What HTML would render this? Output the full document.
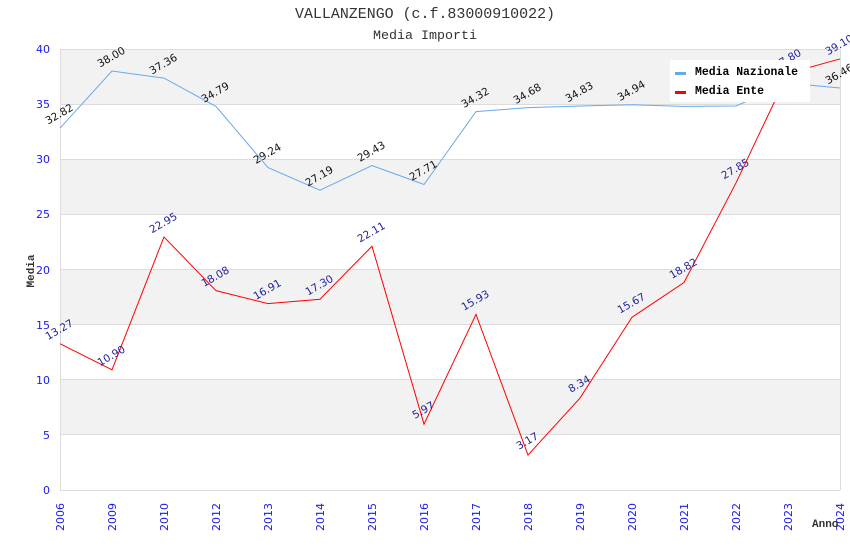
<!DOCTYPE html>
<html><head><meta charset="utf-8"><style>
html,body{margin:0;padding:0;background:#fff;}
svg{display:block;}
</style></head><body>
<svg width="850" height="550" viewBox="0 0 850 550" xmlns="http://www.w3.org/2000/svg">
<rect x="0" y="0" width="850" height="550" fill="#fff"/>
<!-- bands -->
<g fill="#f2f2f2">
<rect x="60" y="49" width="780" height="55.125"/>
<rect x="60" y="159.25" width="780" height="55.125"/>
<rect x="60" y="269.5" width="780" height="55.125"/>
<rect x="60" y="379.75" width="780" height="55.125"/>
</g>
<g stroke="#dcdcdc" stroke-width="1" fill="none">
<line x1="60" y1="49.5" x2="840" y2="49.5"/>
<line x1="60" y1="104.5" x2="840" y2="104.5"/>
<line x1="60" y1="159.5" x2="840" y2="159.5"/>
<line x1="60" y1="214.5" x2="840" y2="214.5"/>
<line x1="60" y1="269.5" x2="840" y2="269.5"/>
<line x1="60" y1="324.5" x2="840" y2="324.5"/>
<line x1="60" y1="379.5" x2="840" y2="379.5"/>
<line x1="60" y1="434.5" x2="840" y2="434.5"/>
<line x1="60" y1="490.5" x2="840" y2="490.5"/>
<line x1="60.5" y1="49" x2="60.5" y2="490"/>
<line x1="840.5" y1="49" x2="840.5" y2="490"/>
</g>
<!-- titles -->
<text x="425" y="18" text-anchor="middle" font-family="'Liberation Mono','DejaVu Sans Mono',monospace" font-size="15" fill="#333" textLength="260" lengthAdjust="spacingAndGlyphs">VALLANZENGO (c.f.83000910022)</text>
<text x="425" y="39" text-anchor="middle" font-family="'Liberation Mono','DejaVu Sans Mono',monospace" font-size="13" fill="#333" textLength="104" lengthAdjust="spacingAndGlyphs">Media Importi</text>
<!-- y ticks -->
<g font-family="'DejaVu Sans','Liberation Sans',sans-serif" font-size="11" fill="#1a1aee" text-anchor="end">
<text x="50" y="53">40</text>
<text x="50" y="108">35</text>
<text x="50" y="163">30</text>
<text x="50" y="218">25</text>
<text x="50" y="274">20</text>
<text x="50" y="329">15</text>
<text x="50" y="384">10</text>
<text x="50" y="439">5</text>
<text x="50" y="494">0</text>
</g>
<!-- x ticks -->
<g font-family="'DejaVu Sans','Liberation Sans',sans-serif" font-size="11" fill="#1a1aee" text-anchor="end">
<text transform="translate(64,503) rotate(-90)">2006</text>
<text transform="translate(116,503) rotate(-90)">2009</text>
<text transform="translate(168,503) rotate(-90)">2010</text>
<text transform="translate(220,503) rotate(-90)">2012</text>
<text transform="translate(272,503) rotate(-90)">2013</text>
<text transform="translate(324,503) rotate(-90)">2014</text>
<text transform="translate(376,503) rotate(-90)">2015</text>
<text transform="translate(428,503) rotate(-90)">2016</text>
<text transform="translate(480,503) rotate(-90)">2017</text>
<text transform="translate(532,503) rotate(-90)">2018</text>
<text transform="translate(584,503) rotate(-90)">2019</text>
<text transform="translate(636,503) rotate(-90)">2020</text>
<text transform="translate(688,503) rotate(-90)">2021</text>
<text transform="translate(740,503) rotate(-90)">2022</text>
<text transform="translate(792,503) rotate(-90)">2023</text>
<text transform="translate(844,503) rotate(-90)">2024</text>
</g>
<!-- axis titles -->
<text transform="translate(34,271) rotate(-90)" text-anchor="middle" font-family="'Liberation Mono','DejaVu Sans Mono',monospace" font-size="11" font-weight="bold" fill="#333">Media</text>
<text x="812" y="527" font-family="'Liberation Mono','DejaVu Sans Mono',monospace" font-size="11" font-weight="bold" fill="#333">Anno</text>
<!-- series -->
<polyline fill="none" stroke="#66aaee" stroke-width="1" points="60,128.16 112,71.05 164,78.11 216,106.44 268,167.63 320,190.23 372,165.53 424,184.5 476,111.62 528,107.65 580,106 632,104.79 684,106.33 736,106 788,83.18 840,88.03"/>
<polyline fill="none" stroke="#ff0000" stroke-width="1" points="60,343.7 112,369.83 164,236.97 216,290.67 268,303.57 320,299.27 372,246.24 424,424.18 476,314.37 528,455.05 580,398.05 632,317.24 684,282.51 736,182.95 788,73.25 840,58.92"/>
<!-- labels nazionale -->
<g font-family="'DejaVu Sans','Liberation Sans',sans-serif" font-size="10.5" fill="#111" text-anchor="middle">
<text transform="translate(61,117.16) rotate(-30)">32.82</text>
<text transform="translate(113,60.05) rotate(-30)">38.00</text>
<text transform="translate(165,67.11) rotate(-30)">37.36</text>
<text transform="translate(217,95.44) rotate(-30)">34.79</text>
<text transform="translate(269,156.63) rotate(-30)">29.24</text>
<text transform="translate(321,179.23) rotate(-30)">27.19</text>
<text transform="translate(373,154.53) rotate(-30)">29.43</text>
<text transform="translate(425,173.5) rotate(-30)">27.71</text>
<text transform="translate(477,100.62) rotate(-30)">34.32</text>
<text transform="translate(529,96.65) rotate(-30)">34.68</text>
<text transform="translate(581,95) rotate(-30)">34.83</text>
<text transform="translate(633,93.79) rotate(-30)">34.94</text>
<text transform="translate(841,77.03) rotate(-30)">36.46</text>
</g>
<!-- labels ente -->
<g font-family="'DejaVu Sans','Liberation Sans',sans-serif" font-size="10.5" fill="#22229a" text-anchor="middle">
<text transform="translate(61,332.7) rotate(-30)">13.27</text>
<text transform="translate(113,358.83) rotate(-30)">10.90</text>
<text transform="translate(165,225.97) rotate(-30)">22.95</text>
<text transform="translate(217,279.67) rotate(-30)">18.08</text>
<text transform="translate(269,292.57) rotate(-30)">16.91</text>
<text transform="translate(321,288.27) rotate(-30)">17.30</text>
<text transform="translate(373,235.24) rotate(-30)">22.11</text>
<text transform="translate(425,413.18) rotate(-30)">5.97</text>
<text transform="translate(477,303.37) rotate(-30)">15.93</text>
<text transform="translate(529,444.05) rotate(-30)">3.17</text>
<text transform="translate(581,387.05) rotate(-30)">8.34</text>
<text transform="translate(633,306.24) rotate(-30)">15.67</text>
<text transform="translate(685,271.51) rotate(-30)">18.82</text>
<text transform="translate(737,171.95) rotate(-30)">27.85</text>
<text transform="translate(789,62.25) rotate(-30)">37.80</text>
<text transform="translate(841,47.92) rotate(-30)">39.10</text>
</g>
<!-- legend -->
<rect x="670" y="60" width="140" height="42" fill="#fff"/>
<line x1="675" y1="73.5" x2="686" y2="73.5" stroke="#66aaee" stroke-width="3"/>
<line x1="675" y1="92.5" x2="686" y2="92.5" stroke="#ff0000" stroke-width="3"/>
<g font-family="'Liberation Mono','DejaVu Sans Mono',monospace" font-size="11.5" font-weight="bold" fill="#000">
<text x="695" y="75" textLength="103" lengthAdjust="spacingAndGlyphs">Media Nazionale</text>
<text x="695" y="94" textLength="69" lengthAdjust="spacingAndGlyphs">Media Ente</text>
</g>
</svg>
</body></html>
